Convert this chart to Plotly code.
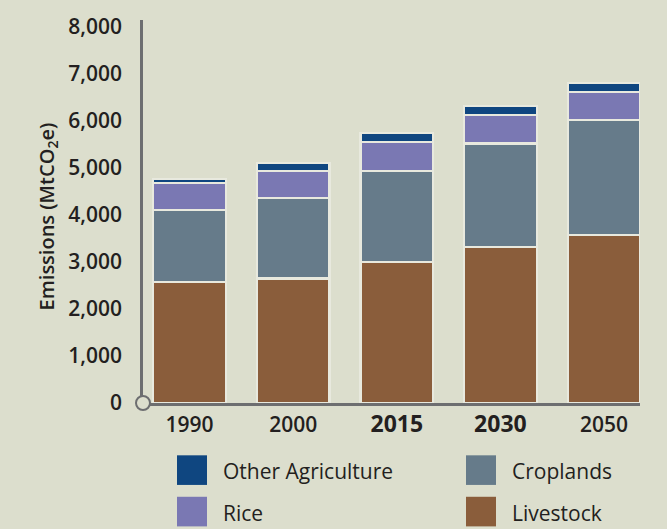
import plotly.graph_objects as go

years = ["1990", "2000", "2015", "2030", "2050"]
tick_labels = ["1990", "2000",
               "<span style='font-size:23px'><b>2015</b></span>",
               "<span style='font-size:23px'><b>2030</b></span>", "2050"]
livestock = [2580, 2650, 3000, 3320, 3580]
croplands = [1530, 1720, 1940, 2200, 2450]
rice = [570, 560, 620, 610, 590]
other_agri = [90, 180, 190, 190, 190]

series_names = ["Livestock", "Croplands", "Rice", "Other Agriculture"]
series_values = [livestock, croplands, rice, other_agri]
series_colors = ["#8a5d3b", "#667b8a", "#7a78b3", "#0f4680"]

y_ticks = [0, 1000, 2000, 3000, 4000, 5000, 6000, 7000, 8000]
y_tick_labels = ["0", "1,000", "2,000", "3,000", "4,000", "5,000", "6,000", "7,000", "8,000"]

BG = "#dcdecd"
AXIS = "#6d6e70"
TEXT = "#231f20"
FONT = "Open Sans"

fig = go.Figure()
for name, vals, col in zip(series_names, series_values, series_colors):
    fig.add_trace(go.Bar(
        x=years, y=vals, name=name, width=0.70,
        marker=dict(color=col, line=dict(color="#e8e9de", width=2.2)),
        showlegend=False,
    ))

W, H = 667, 529
ml, mr, mt, mb = 143, 27, 15, 126
pw, ph = W - ml - mr, H - mt - mb

fig.update_layout(
    width=W, height=H,
    margin=dict(l=ml, r=mr, t=mt, b=mb),
    paper_bgcolor=BG, plot_bgcolor=BG,
    barmode="stack",
    font=dict(family=FONT, color=TEXT),
    xaxis=dict(
        type="category", range=[-0.449, 4.347],
        tickvals=years, ticktext=tick_labels,
        tickfont=dict(size=21, weight=600, color=TEXT),
        showline=True, linecolor=AXIS, linewidth=2.5,
        ticks="outside", ticklen=1, tickcolor="rgba(0,0,0,0)",
        showgrid=False, zeroline=False,
    ),
    yaxis=dict(
        range=[0, 8150], tickvals=y_ticks, ticktext=y_tick_labels,
        tickfont=dict(size=21, weight=600, color=TEXT),
        showline=True, linecolor=AXIS, linewidth=2.5,
        ticks="outside", ticklen=14, tickcolor="rgba(0,0,0,0)",
        showgrid=False, zeroline=False,
    ),
)

# y-axis title
fig.add_annotation(
    xref="paper", yref="paper", x=(47 - ml) / pw, y=(H - mb - 214) / ph,
    text="Emissions (MtCO<sub>2</sub>e)", textangle=-90, showarrow=False,
    font=dict(size=20, weight=600, color=TEXT), xanchor="center", yanchor="middle",
)

# origin circle
fig.add_shape(
    type="circle", xref="paper", yref="paper", xsizemode="pixel", ysizemode="pixel",
    xanchor=0, yanchor=0, x0=-7, x1=7, y0=-7, y1=7,
    line=dict(color=AXIS, width=2), fillcolor=BG, layer="above",
)

# manual legend (2 x 2)
legend_items = [
    ("Other Agriculture", series_colors[3], 177, 456),
    ("Croplands", series_colors[1], 466, 456),
    ("Rice", series_colors[2], 177, 498),
    ("Livestock", series_colors[0], 466, 498),
]
def px_x(px):
    return (px - ml) / pw
def px_y(py):
    return (H - mb - py) / ph
for label, col, sx, sy in legend_items:
    fig.add_shape(
        type="rect", xref="paper", yref="paper",
        x0=px_x(sx), x1=px_x(sx + 30), y0=px_y(sy + 30), y1=px_y(sy),
        fillcolor=col, line=dict(width=0),
    )
    fig.add_annotation(
        xref="paper", yref="paper", x=px_x(sx + 44), y=px_y(sy + 16),
        text=label, showarrow=False, xanchor="left", yanchor="middle",
        font=dict(size=21, color=TEXT),
    )

fig.write_html(
    "out.html",
    config={"displayModeBar": False},
    post_script="document.body.style.margin='0';document.body.style.background='" + BG + "';",
)
